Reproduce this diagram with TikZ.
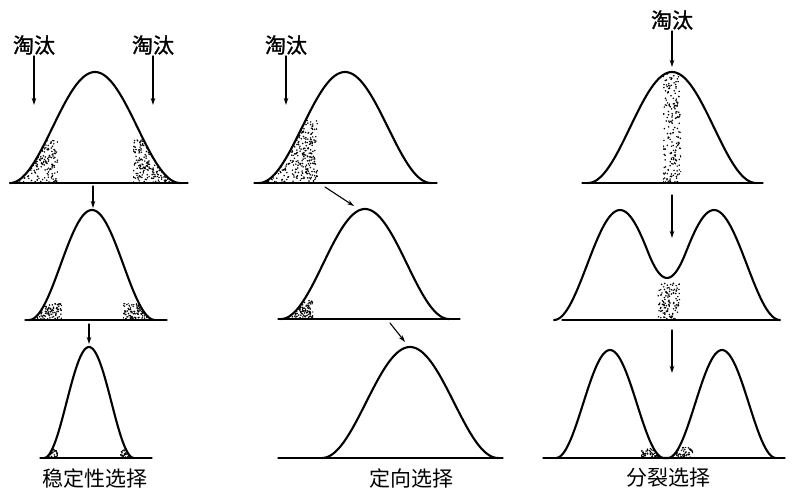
\documentclass[tikz,border=0pt]{standalone}
\usepackage{fontspec}
\newfontfamily\cjk{Noto Sans CJK SC}
\newfontfamily\cjkheavy[FakeBold=1.3]{Noto Sans CJK SC}
\usetikzlibrary{arrows.meta}

\tikzset{
  curve/.style={line width=2.1pt,line join=round},
  ground/.style={line width=1.3pt},
  arr/.style={line width=1.1pt,-{Stealth[length=7pt,width=4.5pt]}},
  cut/.style={font=\cjkheavy\fontsize{21}{23}\selectfont,inner sep=1pt},
  kind/.style={font=\cjk\fontsize{21}{23}\selectfont,inner sep=1pt},
  declare function={bell(\x,\m,\w)=(abs(\x-\m)<\w)?((1+cos((\x-\m)/\w*180))/2):0;}
}

% random dots in a box
\newcommand{\speckle}[5]{%
  \foreach \k in {1,...,#5}{\fill ({#1+rnd*(#2-#1)},{#3+rnd*(#4-#3)}) circle (0.85pt);}}
% dots under one bell: mid, half width, base, height, from, to, top, number
\newcommand{\stippled}[8]{%
  \begin{scope}
    \clip (#5,#3) -- plot[domain=#5:#6,samples=30] (\x,{#3-#4*bell(\x,#1,#2)}) -- (#6,#3) -- cycle;
    \clip (#5,#7) rectangle (#6,#3);
    \speckle{#5}{#6}{#7}{#3}{#8}
  \end{scope}}

\begin{document}
\begin{tikzpicture}[x=1pt,y=-1pt,line cap=round]
  \useasboundingbox (0,0) rectangle (795,490);
  \pgfmathsetseed{11}

  % stabilizing selection
  \draw[ground] (10,183) -- (188,183);
  \draw[curve] plot[domain=10:180,samples=90] (\x,{183-111*bell(\x,95,85)});
  \stippled{95}{85}{183}{111}{10}{58}{140}{330}
  \stippled{95}{85}{183}{111}{133}{180}{138}{330}
  \draw[ground] (25,320) -- (167,320);
  \draw[curve] plot[domain=29:155,samples=90] (\x,{320-110*bell(\x,92,63)});
  \stippled{92}{63}{320}{110}{29}{62}{303}{140}
  \stippled{92}{63}{320}{110}{123}{155}{303}{140}
  \draw[ground] (40,458) -- (152,458);
  \draw[curve] plot[domain=44:134,samples=90] (\x,{458-111*bell(\x,89,45)});
  \stippled{89}{45}{458}{111}{44}{58}{449}{50}
  \stippled{89}{45}{458}{111}{120}{134}{449}{50}

  \node[cut] (st1) at (34,45) {淘汰};
  \node[cut] (st2) at (153,45) {淘汰};
  \coordinate (st1e) at (34,105);
  \coordinate (st2e) at (153,105);
  \coordinate (st3) at (93,186);
  \coordinate (st4) at (93,208);
  \coordinate (st5) at (89,324);
  \coordinate (st6) at (89,344);
  \draw[arr] (st1) -- (st1e);
  \draw[arr] (st2) -- (st2e);
  \draw[arr] (st3) -- (st4);
  \draw[arr] (st5) -- (st6);
  \node[kind] (stab) at (95,478) {稳定性选择};

  % directional selection
  \draw[ground] (254,183) -- (437,183);
  \draw[curve] plot[domain=259:431,samples=90] (\x,{183-111*bell(\x,345,86)});
  \stippled{345}{86}{183}{111}{259}{318}{120}{560}
  \draw[ground] (278,319) -- (460,319);
  \draw[curve] plot[domain=281:449,samples=90] (\x,{319-110*bell(\x,365,84)});
  \stippled{365}{84}{319}{110}{281}{313}{300}{170}
  \draw[ground] (278,458) -- (503,458);
  \draw[curve] plot[domain=322:498,samples=90] (\x,{458-111*bell(\x,410,88)});

  \node[cut] (di1) at (286,45) {淘汰};
  \coordinate (di1e) at (286,105);
  \coordinate (di2) at (325,187);
  \coordinate (di3) at (354,206);
  \coordinate (di4) at (390,323);
  \coordinate (di5) at (405,342);
  \draw[arr] (di1) -- (di1e);
  \draw[arr] (di2) -- (di3);
  \draw[arr] (di4) -- (di5);
  \node[kind] (dire) at (411,478) {定向选择};

  % disruptive selection
  \draw[ground] (582,183) -- (763,183);
  \draw[curve] plot[domain=588:756,samples=90] (\x,{183-111*bell(\x,672,84)});
  \stippled{672}{84}{183}{111}{663}{681}{74}{200}
  \draw[ground] (562,320) -- (778,320);
  \draw[curve] plot[domain=554:780,samples=120]
    (\x,{320-110*(bell(\x,620,66)+bell(\x,714,66))});
  \speckle{658}{680}{283}{320}{120}
  \draw[ground] (543,458) -- (785,458);
  \draw[curve] plot[domain=556:776,samples=120]
    (\x,{458-108*(bell(\x,610,54)+bell(\x,722,54))});
  \stippled{610}{54}{458}{108}{641}{664}{447}{70}
  \stippled{722}{54}{458}{108}{668}{693}{447}{70}

  \node[cut] (sp1) at (672,20) {淘汰};
  \coordinate (sp1e) at (672,67);
  \coordinate (sp2) at (672,195);
  \coordinate (sp3) at (672,238);
  \coordinate (sp4) at (672,330);
  \coordinate (sp5) at (672,373);
  \draw[arr] (sp1) -- (sp1e);
  \draw[arr] (sp2) -- (sp3);
  \draw[arr] (sp4) -- (sp5);
  \node[kind] (spli) at (668,478) {分裂选择};
\end{tikzpicture}
\end{document}
